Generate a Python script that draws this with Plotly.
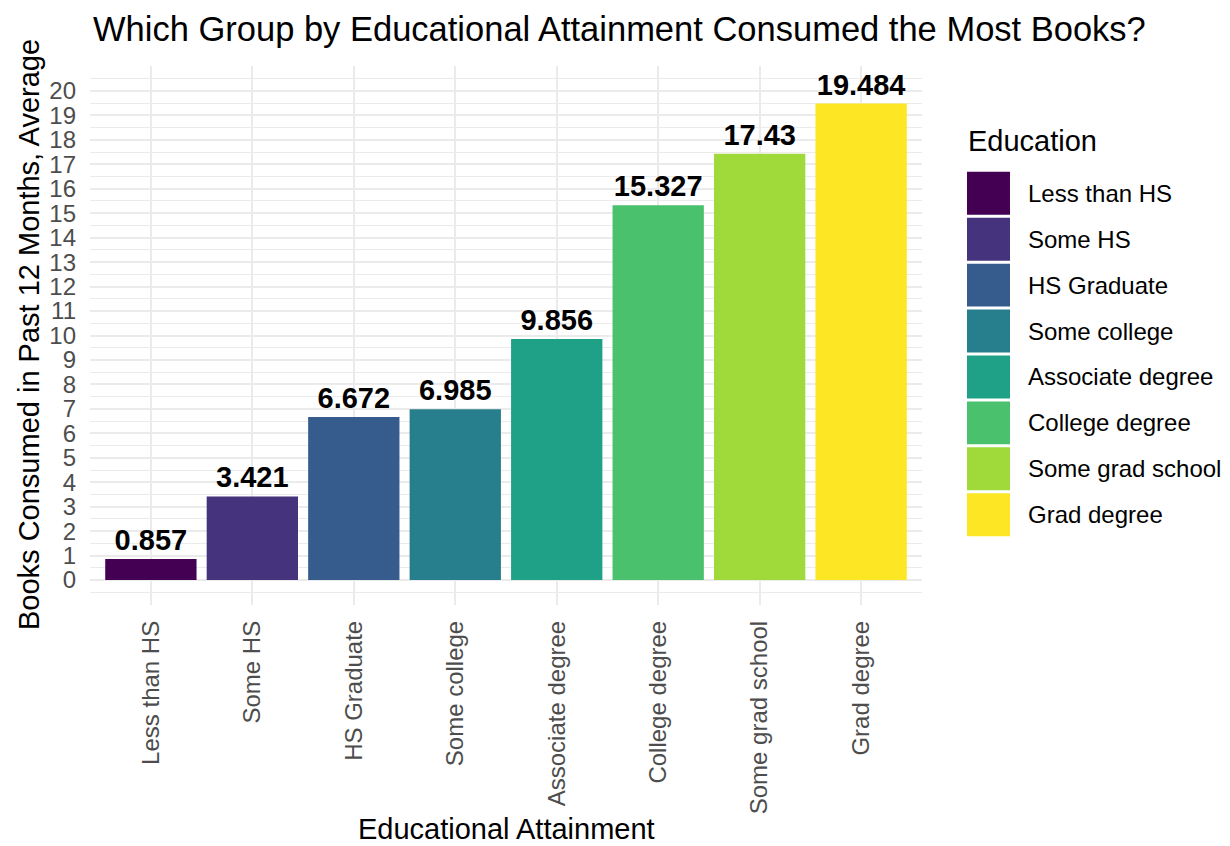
import plotly.graph_objects as go

categories = ["Less than HS", "Some HS", "HS Graduate", "Some college",
              "Associate degree", "College degree", "Some grad school", "Grad degree"]
values = [0.857, 3.421, 6.672, 6.985, 9.856, 15.327, 17.43, 19.484]
labels = ["0.857", "3.421", "6.672", "6.985", "9.856", "15.327", "17.43", "19.484"]
colors = ["#440154", "#46337E", "#365C8D", "#277F8E",
          "#1FA187", "#4AC16D", "#9FDA3A", "#FDE725"]
y_ticks = list(range(0, 21))

FONT = "Liberation Sans, Arial, sans-serif"
OX, OY = 8, 8                      # page body margin
W, H = 1230 - OX, 846 - OY
# panel edges in window pixels
PX0, PX1, PY0, PY1 = 90, 922, 65.5, 605.5
L, R = PX0 - OX, W - (PX1 - OX)
T, B = PY0 - OY, H - (PY1 - OY)
PW, PH = W - L - R, H - T - B

def px(x):
    return (x - OX - L) / PW

def py(y):
    return (H - B - (y - OY)) / PH

fig = go.Figure()
fig.add_trace(go.Bar(
    x=categories, y=values, marker=dict(color=colors, line=dict(width=0)),
    text=labels, textposition="outside", cliponaxis=False,
    textfont=dict(family=FONT, size=29, color="black", weight="bold"),
    showlegend=False, width=0.9,
))

fig.update_layout(
    width=W, height=H, paper_bgcolor="white", plot_bgcolor="white",
    margin=dict(l=L, r=R, t=T, b=B, autoexpand=False),
    font=dict(family=FONT),
    xaxis=dict(range=[-0.6, 7.6], showgrid=True, gridcolor="#EBEBEB", gridwidth=2,
               tickangle=-90, tickfont=dict(size=24, color="#4D4D4D"),
               ticks="", zeroline=False, showline=False, ticklabelstandoff=10),
    yaxis=dict(range=[-1.02, 21.02], tickmode="array", tickvals=y_ticks,
               ticktext=[str(v) for v in y_ticks],
               showgrid=True, gridcolor="#EBEBEB", gridwidth=2,
               minor=dict(tickmode="linear", tick0=0, dtick=0.5, showgrid=True,
                          gridcolor="#EBEBEB", gridwidth=1),
               tickfont=dict(size=24, color="#4D4D4D"), ticks="",
               zeroline=False, showline=False, ticklabelstandoff=13),
)

ann = [
    dict(text="Which Group by Educational Attainment Consumed the Most Books?",
         x=px(91), y=py(28), xref="paper", yref="paper", xanchor="left", yanchor="middle",
         showarrow=False, font=dict(size=34.5, color="black", family=FONT)),
    dict(text="Educational Attainment", x=px(506), y=py(830), xref="paper", yref="paper",
         xanchor="center", yanchor="middle", showarrow=False,
         font=dict(size=29, color="black", family=FONT)),
    dict(text="Books Consumed in Past 12 Months, Average", x=px(29), y=py(335),
         xref="paper", yref="paper", xanchor="center", yanchor="middle", textangle=-90,
         showarrow=False, font=dict(size=29, color="black", family=FONT)),
    dict(text="Education", x=px(966), y=py(141), xref="paper", yref="paper",
         xanchor="left", yanchor="middle", showarrow=False,
         font=dict(size=29, color="black", family=FONT)),
]
shapes = []
for i, (cat, col) in enumerate(zip(categories, colors)):
    cy = 193 + 46 * i
    shapes.append(dict(type="rect", xref="paper", yref="paper",
                       x0=px(967), x1=px(1010), y0=py(cy + 21.5), y1=py(cy - 21.5),
                       fillcolor=col, line=dict(width=0)))
    ann.append(dict(text=cat, x=px(1026), y=py(cy), xref="paper", yref="paper",
                    xanchor="left", yanchor="middle", showarrow=False,
                    font=dict(size=24, color="black", family=FONT)))
fig.update_layout(annotations=ann, shapes=shapes)

fig.write_html("out.html")
